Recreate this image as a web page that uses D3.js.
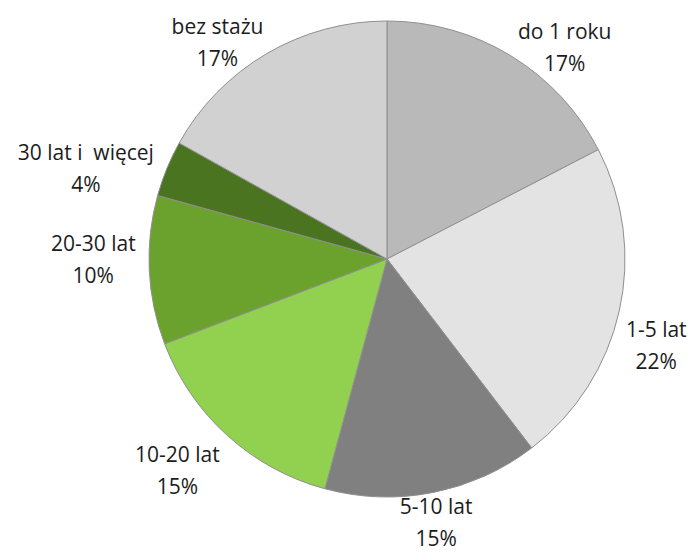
<!DOCTYPE html>
<html>
<head>
<meta charset="utf-8">
<script src="https://cdn.jsdelivr.net/npm/d3@7"></script>
<style>
  body { margin: 0; background: #fff; }
  text { font-family: "Open Sans", sans-serif; font-size: 21px; fill: #1c1c1c; white-space: pre; }
</style>
</head>
<body>
<script>
var width = 693;
var height = 553;

// data (percent share)
var categories = ["do 1 roku", "1-5 lat", "5-10 lat", "10-20 lat", "20-30 lat", "30 lat i  więcej", "bez stażu"];
var values = [17.4, 22.2, 14.6, 15.0, 10.1, 3.8, 16.9];

// styles and label nudges (kept apart from the data)
var colors = ["#b9b9b9", "#e3e3e3", "#808080", "#92d050", "#6ba22e", "#4b7420", "#d1d1d1"];
var labelNudge = [[54, -8], [37, 35], [3, 30], [-50, 35], [-56, -11], [-81, 0], [-49, -11]];

var cx = 387, cy = 259, radius = 238;

var svg = d3.select("body").append("svg")
  .attr("width", width)
  .attr("height", height);

var g = svg.append("g")
  .attr("transform", "translate(" + cx + "," + cy + ")");

var pie = d3.pie().sort(null).value(function(d) { return d; });
var arcs = pie(values);

var arc = d3.arc().innerRadius(0).outerRadius(radius);

g.selectAll("path")
  .data(arcs)
  .enter().append("path")
  .attr("d", arc)
  .attr("fill", function(d, i) { return colors[i]; })
  .attr("stroke", "#8f8f8f")
  .attr("stroke-width", 1);

var total = d3.sum(values);

var labels = g.selectAll(".label")
  .data(arcs)
  .enter().append("g")
  .attr("class", "label")
  .attr("transform", function(d, i) {
    var a = (d.startAngle + d.endAngle) / 2;
    var x = Math.sin(a) * radius + labelNudge[i][0];
    var y = -Math.cos(a) * radius + labelNudge[i][1];
    return "translate(" + x + "," + y + ")";
  });

labels.append("text")
  .attr("text-anchor", "middle")
  .attr("y", -16)
  .attr("dy", "0.35em")
  .text(function(d, i) { return categories[i]; });

labels.append("text")
  .attr("text-anchor", "middle")
  .attr("y", 16)
  .attr("dy", "0.35em")
  .text(function(d) { return Math.round(d.data / total * 100) + "%"; });
</script>
</body>
</html>
